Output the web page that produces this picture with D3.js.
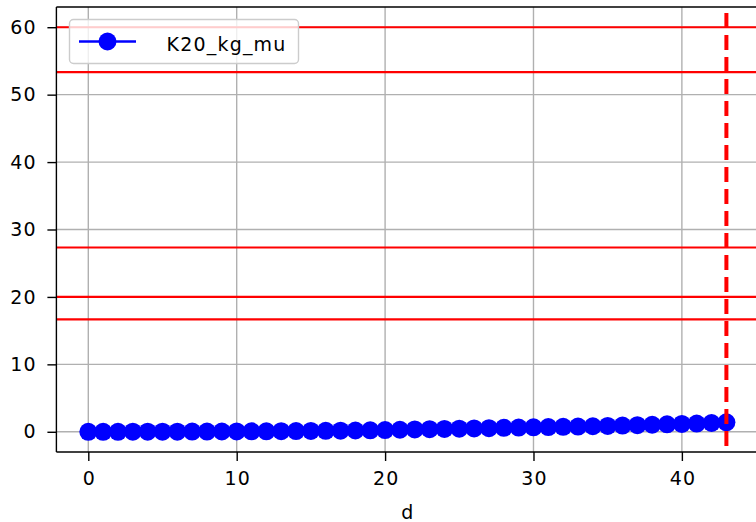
<!DOCTYPE html>
<html>
<head>
<meta charset="utf-8">
<script src="https://cdn.jsdelivr.net/npm/d3@7"></script>
<style>
  html, body { margin: 0; padding: 0; background: #fff; }
  svg { display: block; }
  text { font-family: "DejaVu Sans", sans-serif; font-size: 19px; letter-spacing: 1.2px; }
</style>
</head>
<body>
<svg id="chart" width="756" height="522"></svg>
<script>
// ---- data ----
const days = d3.range(0, 44);
const k20Values = [0.0, 0.0, 0.0, 0.01, 0.01, 0.02, 0.02, 0.03, 0.03, 0.04,
  0.05, 0.06, 0.07, 0.08, 0.1, 0.12, 0.14, 0.16, 0.19, 0.22,
  0.26, 0.3, 0.34, 0.38, 0.42, 0.46, 0.5, 0.54, 0.58, 0.62,
  0.66, 0.7, 0.74, 0.78, 0.82, 0.87, 0.92, 0.98, 1.04, 1.1,
  1.16, 1.22, 1.3, 1.4];
const hLines = [60, 53.33, 27.33, 20, 16.67];
const vLine = 43;
const xTicks = [0, 10, 20, 30, 40];
const yTicks = [0, 10, 20, 30, 40, 50, 60];
const seriesName = "K20_kg_mu";
const xLabel = "d";

// ---- layout ----
const svg = d3.select("#chart");
const pL = 56.4, pR = 758.3, pT = 7, pB = 452;
const x = d3.scaleLinear().domain([-2.15, 45.15]).range([pL, pR]);
const y = d3.scaleLinear().domain([-3, 63]).range([pB, pT]);

// grid
const grid = svg.append("g");
grid.selectAll(".gx").data(xTicks).join("line")
  .attr("x1", d => x(d)).attr("x2", d => x(d))
  .attr("y1", pT).attr("y2", pB)
  .attr("stroke", "#b0b0b0").attr("stroke-width", 1.4);
grid.selectAll(".gy").data(yTicks).join("line")
  .attr("x1", pL).attr("x2", pR)
  .attr("y1", d => y(d)).attr("y2", d => y(d))
  .attr("stroke", "#b0b0b0").attr("stroke-width", 1.4);

// clip
svg.append("clipPath").attr("id", "clip").append("rect")
  .attr("x", pL).attr("y", pT).attr("width", pR - pL).attr("height", pB - pT);

const plot = svg.append("g").attr("clip-path", "url(#clip)");

// series line + markers
const line = d3.line().x((d, i) => x(days[i])).y(d => y(d));
plot.append("path").datum(k20Values)
  .attr("d", line).attr("fill", "none")
  .attr("stroke", "#0000ff").attr("stroke-width", 2.6);
plot.selectAll(".pt").data(k20Values).join("circle")
  .attr("cx", (d, i) => x(days[i])).attr("cy", d => y(d))
  .attr("r", 9).attr("fill", "#0000ff");

// horizontal red lines
plot.selectAll(".hl").data(hLines).join("line")
  .attr("x1", pL).attr("x2", pR)
  .attr("y1", d => y(d)).attr("y2", d => y(d))
  .attr("stroke", "#ff0000").attr("stroke-width", 2.2);

// vertical dashed line
plot.append("line")
  .attr("x1", x(vLine)).attr("x2", x(vLine))
  .attr("y1", pT + 6).attr("y2", pB)
  .attr("stroke", "#ff0000").attr("stroke-width", 4)
  .attr("stroke-dasharray", "15,7");

// spines
svg.append("line").attr("x1", pL).attr("x2", pL).attr("y1", pT).attr("y2", pB)
  .attr("stroke", "#000").attr("stroke-width", 1.4);
svg.append("line").attr("x1", pL).attr("x2", pR).attr("y1", pB).attr("y2", pB)
  .attr("stroke", "#000").attr("stroke-width", 1.4);
svg.append("line").attr("x1", pL).attr("x2", pR).attr("y1", pT).attr("y2", pT)
  .attr("stroke", "#000").attr("stroke-width", 1.4);

// axes
const xAxis = svg.append("g").attr("transform", `translate(0,${pB})`)
  .call(d3.axisBottom(x).tickValues(xTicks).tickSize(9).tickPadding(10.5).tickFormat(d3.format("d")));
const yAxis = svg.append("g").attr("transform", `translate(${pL},0)`)
  .call(d3.axisLeft(y).tickValues(yTicks).tickSize(9).tickPadding(10.5).tickFormat(d3.format("d")));
[xAxis, yAxis].forEach(a => {
  a.attr("font-family", null).attr("font-size", null);
  a.select(".domain").remove();
  a.selectAll(".tick line").attr("stroke", "#000").attr("stroke-width", 1.4);
  a.selectAll(".tick text").attr("fill", "#000");
});
xAxis.selectAll(".tick text").attr("dx", "0.6");

// x label
svg.append("text").attr("x", x(21.5)).attr("dx", 0.6).attr("y", 519).attr("text-anchor", "middle")
  .attr("fill", "#000").text(xLabel);

// legend
const lg = svg.append("g");
lg.append("rect").attr("x", 69.5).attr("y", 19.5).attr("width", 229).attr("height", 44)
  .attr("rx", 4).attr("fill", "#fff").attr("fill-opacity", 0.8)
  .attr("stroke", "#cccccc").attr("stroke-width", 1.4);
lg.append("line").attr("x1", 79).attr("x2", 136).attr("y1", 41.5).attr("y2", 41.5)
  .attr("stroke", "#0000ff").attr("stroke-width", 2.6);
lg.append("circle").attr("cx", 107.5).attr("cy", 41.5).attr("r", 9).attr("fill", "#0000ff");
lg.append("text").attr("x", 166.5).attr("y", 51)
  .attr("fill", "#000").text(seriesName);
</script>
</body>
</html>
